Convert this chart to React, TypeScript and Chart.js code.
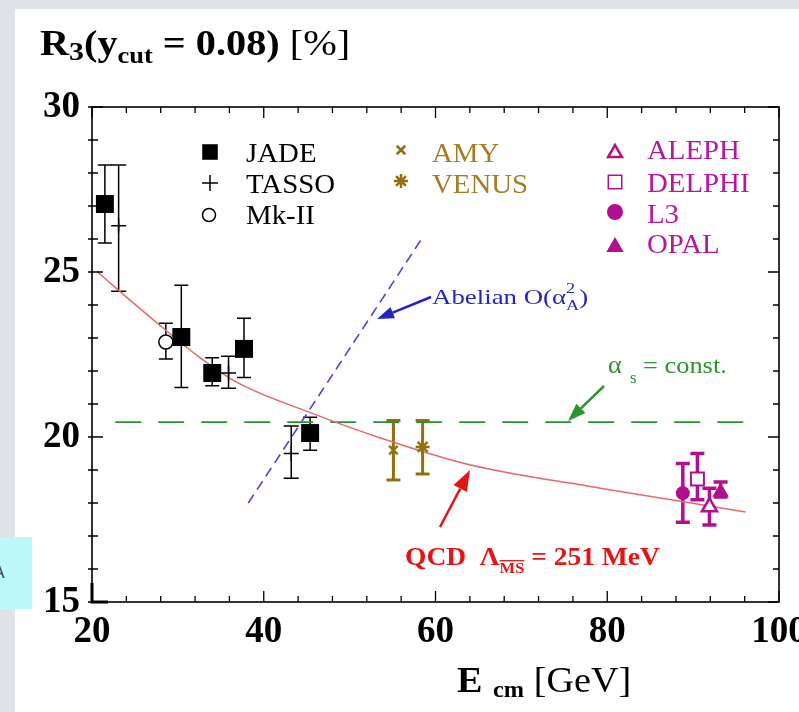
import React, { useEffect, useRef } from 'react';
import { Chart, registerables } from 'chart.js';
import { drawPoint } from 'chart.js/helpers';

Chart.register(...registerables);

const SERIF = '"Liberation Serif", "Times New Roman", Times, serif';
const font = (size: number, bold = false) => `${bold ? 'bold ' : ''}${size}px ${SERIF}`;

// ---------------- data ----------------
const jadeE = [21.5, 30.4, 34.0, 37.7, 45.4];
const jadeR = [27.06, 23.03, 21.94, 22.67, 20.12];
const jadeHi = [28.24, 24.6, 22.4, 23.6, 20.6];
const jadeLo = [25.88, 21.5, 21.55, 21.8, 19.6];

const tassoE = [23.1, 35.9, 43.2];
const tassoR = [26.4, 21.94, 19.5];
const tassoHi = [28.24, 22.45, 20.33];
const tassoLo = [24.42, 21.48, 18.75];

const mk2E = [28.6];
const mk2R = [22.88];
const mk2Hi = [23.45];
const mk2Lo = [22.36];

const amyE = [55.1];
const amyR = [19.6];
const amyHi = [20.5];
const amyLo = [18.7];

const venusE = [58.5];
const venusR = [19.7];
const venusHi = [20.5];
const venusLo = [18.88];

const alephE = [91.9];
const alephR = [17.88];
const alephHi = [18.45];
const alephLo = [17.33];

const delphiE = [90.5];
const delphiR = [18.73];
const delphiHi = [19.5];
const delphiLo = [18.1];

const l3E = [88.8];
const l3R = [18.3];
const l3Hi = [19.2];
const l3Lo = [17.42];

const opalE = [93.2];
const opalR = [18.33];
const opalHi = [18.64];
const opalLo = [18.18];

// QCD prediction, alpha_s = const, Abelian O(alpha_A^2)
const qcdE = [20.6, 22.1, 27.6, 32.6, 37.0, 45.2, 53.6, 64.1, 79.2, 96.1];
const qcdR = [25.02, 24.67, 23.45, 22.4, 21.64, 20.76, 19.97, 19.15, 18.45, 17.73];
const alphaE = [22.7, 97.6];
const alphaR = [20.45, 20.45];
const abelE = [38.2, 58.6];
const abelR = [18.0, 26.09];

// axes
const xMin = 20, xMax = 100, xStep = 20, xMinorStep = 4;
const yMin = 15, yMax = 30, yStep = 5, yMinorStep = 1;

// ---------------- colours ----------------
const BLACK = '#000000';
const BROWN = '#93700f';
const BROWN_TXT = '#a57c25';
const MAG = '#b0108f';
const MAG_TXT = '#b8179c';
const RED_LINE = '#e76868';
const RED = '#e31414';
const GREEN = '#2b942f';
const BLUE_LINE = '#4646dc';
const BLUE = '#2424c4';

const pts = (xs: number[], ys: number[]) => xs.map((x, i) => ({ x, y: ys[i] }));

function drawRich(ctx: CanvasRenderingContext2D, x: number, y: number, pieces: any[], color: string, sx = 1) {
  ctx.save();
  ctx.translate(x, y);
  ctx.scale(sx, 1);
  ctx.fillStyle = color;
  ctx.strokeStyle = color;
  ctx.textAlign = 'left';
  ctx.textBaseline = 'alphabetic';
  let cx = 0;
  for (const p of pieces) {
    ctx.font = p.font;
    const dx = p.dx || 0;
    const w = ctx.measureText(p.text).width;
    ctx.fillText(p.text, cx + dx, p.dy || 0);
    if (p.overline) {
      ctx.lineWidth = 1.3;
      ctx.beginPath();
      ctx.moveTo(cx + dx, (p.dy || 0) - p.size * 0.82);
      ctx.lineTo(cx + dx + w, (p.dy || 0) - p.size * 0.82);
      ctx.stroke();
    }
    if (!p.noAdvance) cx += w + dx;
  }
  ctx.restore();
}

function drawArrow(ctx: CanvasRenderingContext2D, x1: number, y1: number, x2: number, y2: number, color: string, lw: number, hl: number, hw: number) {
  const a = Math.atan2(y2 - y1, x2 - x1);
  const bx = x2 - Math.cos(a) * hl;
  const by = y2 - Math.sin(a) * hl;
  ctx.save();
  ctx.strokeStyle = color;
  ctx.fillStyle = color;
  ctx.lineWidth = lw;
  ctx.beginPath();
  ctx.moveTo(x1, y1);
  ctx.lineTo(bx, by);
  ctx.stroke();
  ctx.beginPath();
  ctx.moveTo(x2, y2);
  ctx.lineTo(bx + Math.sin(a) * hw / 2, by - Math.cos(a) * hw / 2);
  ctx.lineTo(bx - Math.sin(a) * hw / 2, by + Math.cos(a) * hw / 2);
  ctx.closePath();
  ctx.fill();
  ctx.restore();
}

// legend layout: [label, symbol x, symbol y, text x, text baseline, symbol radius, symbol line width, text colour]
const legendLayout: any[] = [
  ['JADE', 210, 152, 246, 162, 11, 0, BLACK],
  ['TASSO', 210, 183, 246, 193, 8, 1.5, BLACK],
  ['Mk-II', 209, 215, 246, 224, 6.5, 1.5, BLACK],
  ['AMY', 401, 150, 432, 162, 6, 2.5, BROWN_TXT],
  ['VENUS', 401, 181, 432, 193, 7, 2.5, BROWN_TXT],
  ['ALEPH', 615, 153, 647, 159, 8, 2.5, MAG_TXT],
  ['DELPHI', 615, 182, 647, 192, 9.5, 1.5, MAG_TXT],
  ['L3', 615, 212, 647, 223, 8, 0, MAG_TXT],
  ['OPAL', 615, 247, 647, 253, 10, 0, MAG_TXT],
];

const decorPlugin = {
  id: 'decor',
  beforeDatasetsDraw(chart: any) {
    const { ctx, scales } = chart;
    const xs = scales.x, ys = scales.y;
    chart.data.datasets.forEach((ds: any) => {
      if (!ds.errHi) return;
      ctx.save();
      ctx.strokeStyle = ds.barColor;
      ctx.lineWidth = ds.barWidth;
      ds.data.forEach((p: any, i: number) => {
        const px = xs.getPixelForValue(p.x);
        const top = ys.getPixelForValue(ds.errHi[i]);
        const bot = ys.getPixelForValue(ds.errLo[i]);
        const c = ds.capHalf;
        ctx.beginPath();
        ctx.moveTo(px, top);
        ctx.lineTo(px, bot);
        ctx.moveTo(px - c, top);
        ctx.lineTo(px + c, top);
        ctx.moveTo(px - c, bot);
        ctx.lineTo(px + c, bot);
        ctx.stroke();
      });
      ctx.restore();
    });
  },
  afterDraw(chart: any) {
    const { ctx, chartArea, scales } = chart;
    const { left, right, top, bottom } = chartArea;
    const xs = scales.x, ys = scales.y;
    ctx.save();
    // frame
    ctx.strokeStyle = BLACK;
    ctx.lineWidth = 1.6;
    ctx.strokeRect(left, top, right - left, bottom - top);
    // ticks
    ctx.lineWidth = 1.3;
    ctx.beginPath();
    for (let v = xMin; v <= xMax + 1e-9; v += xMinorStep) {
      const px = xs.getPixelForValue(v);
      const major = Math.abs((v - xMin) % xStep) < 1e-6;
      const len = major ? 11 : 6;
      ctx.moveTo(px, bottom);
      ctx.lineTo(px, bottom - len);
      ctx.moveTo(px, top);
      ctx.lineTo(px, top + len);
    }
    for (let v = yMin; v <= yMax + 1e-9; v += yMinorStep) {
      const py = ys.getPixelForValue(v);
      const major = Math.abs((v - yMin) % yStep) < 1e-6;
      const len = major ? 11 : 6;
      ctx.moveTo(left - 4, py);
      ctx.lineTo(left + len, py);
      ctx.moveTo(right, py);
      ctx.lineTo(right - len, py);
    }
    ctx.stroke();
    // corner
    ctx.lineWidth = 3;
    ctx.beginPath();
    ctx.moveTo(left, bottom - 19);
    ctx.lineTo(left, bottom);
    ctx.lineTo(left + 16, bottom);
    ctx.stroke();
    ctx.restore();

    // axis titles
    drawRich(ctx, 40, 55, [
      { text: 'R', font: font(35, true) },
      { text: '3', font: font(26, true), dy: 5 },
      { text: '(', font: font(35, true) },
      { text: 'y', font: font(35, true) },
      { text: 'cut', font: font(23, true), dy: 8 },
      { text: ' = 0.08)', font: font(35, true) },
      { text: ' [%]', font: font(35) },
    ], BLACK, 1.15);
    drawRich(ctx, 457, 692, [
      { text: 'E', font: font(36, true) },
      { text: 'cm', font: font(23, true), dy: 5, dx: 10 },
      { text: ' [GeV]', font: font(36) },
    ], BLACK, 1.06);

    // legend
    legendLayout.forEach(([label, sx, sy, tx, ty, r, lw, tcol]) => {
      const ds = chart.data.datasets.find((d: any) => d.label === label);
      if (!ds) return;
      ctx.save();
      ctx.fillStyle = ds.pointBackgroundColor;
      ctx.strokeStyle = ds.pointBorderColor;
      ctx.lineWidth = lw;
      drawPoint(ctx, { pointStyle: ds.pointStyle, radius: r, rotation: 0, borderWidth: lw } as any, sx, sy);
      ctx.restore();
      drawRich(ctx, tx, ty, [{ text: label, font: font(28) }], tcol, 1.03);
    });

    // annotations
    drawArrow(ctx, 431, 297, 377, 319, BLUE, 2.5, 17, 12);
    drawRich(ctx, 432, 304, [
      { text: 'Abelian O(α', font: font(22) },
      { text: '2', font: font(15), dy: -11, noAdvance: true },
      { text: 'A', font: font(15), dy: 6 },
      { text: ')', font: font(22) },
    ], BLUE, 1.22);

    drawArrow(ctx, 604, 386, 568, 421, GREEN, 2.5, 18, 13);
    drawRich(ctx, 608, 373, [{ text: 'α', font: font(25) }], GREEN, 1.05);
    drawRich(ctx, 630, 383, [{ text: 's', font: font(16) }], GREEN, 1.05);
    drawRich(ctx, 643, 373, [{ text: '= const.', font: font(24) }], GREEN, 1.1);

    drawArrow(ctx, 440, 527, 470, 470, RED, 2.5, 21, 15);
    drawRich(ctx, 405, 565, [
      { text: 'QCD  Λ', font: font(25, true) },
      { text: 'MS', font: font(15, true), size: 15, dy: 8, overline: true },
      { text: ' = 251 MeV', font: font(25, true) },
    ], RED, 1.1);
  },
};

function markerDs(label: string, xs: number[], ys: number[], hi: number[], lo: number[], style: any) {
  return {
    label,
    data: pts(xs, ys),
    errHi: hi,
    errLo: lo,
    showLine: false,
    ...style,
  };
}

export default function App() {
  const ref = useRef<HTMLCanvasElement>(null);
  useEffect(() => {
    const datasets: any[] = [
      markerDs('JADE', jadeE, jadeR, jadeHi, jadeLo, {
        pointStyle: 'rect', pointRadius: 12.7, pointBackgroundColor: BLACK, pointBorderColor: BLACK, pointBorderWidth: 0,
        barColor: BLACK, barWidth: 1.5, capHalf: 7,
      }),
      markerDs('TASSO', tassoE, tassoR, tassoHi, tassoLo, {
        pointStyle: 'cross', pointRadius: 7.5, pointBackgroundColor: BLACK, pointBorderColor: BLACK, pointBorderWidth: 1.5,
        barColor: BLACK, barWidth: 1.5, capHalf: 7.5,
      }),
      markerDs('Mk-II', mk2E, mk2R, mk2Hi, mk2Lo, {
        pointStyle: 'circle', pointRadius: 7, pointBackgroundColor: '#ffffff', pointBorderColor: BLACK, pointBorderWidth: 1.5,
        barColor: BLACK, barWidth: 1.5, capHalf: 7,
      }),
      markerDs('AMY', amyE, amyR, amyHi, amyLo, {
        pointStyle: 'crossRot', pointRadius: 6, pointBackgroundColor: BROWN, pointBorderColor: BROWN, pointBorderWidth: 2.5,
        barColor: BROWN, barWidth: 3, capHalf: 7,
      }),
      markerDs('VENUS', venusE, venusR, venusHi, venusLo, {
        pointStyle: 'star', pointRadius: 7, pointBackgroundColor: BROWN, pointBorderColor: BROWN, pointBorderWidth: 2.5,
        barColor: BROWN, barWidth: 3, capHalf: 7,
      }),
      markerDs('ALEPH', alephE, alephR, alephHi, alephLo, {
        pointStyle: 'triangle', pointRadius: 8.7, pointBackgroundColor: '#ffffff', pointBorderColor: MAG, pointBorderWidth: 2.5,
        barColor: MAG, barWidth: 3.5, capHalf: 7,
      }),
      markerDs('DELPHI', delphiE, delphiR, delphiHi, delphiLo, {
        pointStyle: 'rect', pointRadius: 9.2, pointBackgroundColor: '#ffffff', pointBorderColor: MAG, pointBorderWidth: 2,
        barColor: MAG, barWidth: 3.5, capHalf: 7,
      }),
      markerDs('L3', l3E, l3R, l3Hi, l3Lo, {
        pointStyle: 'circle', pointRadius: 7, pointBackgroundColor: MAG, pointBorderColor: MAG, pointBorderWidth: 0,
        barColor: MAG, barWidth: 3.5, capHalf: 7,
      }),
      markerDs('OPAL', opalE, opalR, opalHi, opalLo, {
        pointStyle: 'triangle', pointRadius: 9.5, pointBackgroundColor: MAG, pointBorderColor: MAG, pointBorderWidth: 0,
        barColor: MAG, barWidth: 3.5, capHalf: 7,
      }),
      {
        label: 'QCD', data: pts(qcdE, qcdR), showLine: true, pointRadius: 0, borderColor: RED_LINE, borderWidth: 1.5,
        cubicInterpolationMode: 'monotone', fill: false,
      },
      {
        label: 'alpha_s const', data: pts(alphaE, alphaR), showLine: true, pointRadius: 0, borderColor: GREEN, borderWidth: 1.6,
        borderDash: [26, 17], fill: false,
      },
      {
        label: 'Abelian', data: pts(abelE, abelR), showLine: true, pointRadius: 0, borderColor: BLUE_LINE, borderWidth: 1.6,
        borderDash: [10, 6], fill: false,
      },
    ];

    const tickFont = { family: SERIF, size: 37, weight: 'bold', lineHeight: 1.2 };
    const chart = new Chart(ref.current as HTMLCanvasElement, {
      type: 'scatter',
      data: { datasets },
      options: {
        animation: false,
        responsive: false,
        devicePixelRatio: 1,
        events: [],
        layout: { padding: { left: 8, top: 107, right: 20, bottom: 0 } },
        plugins: { legend: { display: false }, title: { display: false }, tooltip: { enabled: false } },
        scales: {
          x: {
            type: 'linear', min: xMin, max: xMax,
            ticks: { stepSize: xStep, color: BLACK, font: tickFont, padding: 8, maxRotation: 0, autoSkip: false },
            grid: { display: false, drawTicks: false },
            border: { display: false },
            afterFit: (s: any) => { s.height = 110; s.paddingLeft = 0; s.paddingRight = 0; },
          },
          y: {
            type: 'linear', min: yMin, max: yMax,
            ticks: { stepSize: yStep, color: BLACK, font: tickFont, padding: 12, autoSkip: false },
            grid: { display: false, drawTicks: false },
            border: { display: false },
            afterFit: (s: any) => { s.width = 84; s.paddingTop = 0; s.paddingBottom = 0; },
          },
        },
      } as any,
      plugins: [decorPlugin],
    } as any);
    return () => chart.destroy();
  }, []);

  return (
    <div style={{ position: 'fixed', left: 0, top: 0, width: 799, height: 712, background: '#dfe3e7', overflow: 'hidden' }}>
      <div style={{ position: 'absolute', left: 15, top: 9, right: 0, bottom: 0, background: '#ffffff' }} />
      <canvas ref={ref} width={799} height={712} style={{ position: 'absolute', left: 0, top: 0 }} />
      <div style={{ position: 'absolute', left: 0, top: 537, width: 32, height: 72, background: '#bdf8fb', overflow: 'hidden' }}>
        <span style={{ position: 'absolute', left: -7, top: 25, font: '17px "DejaVu Sans", sans-serif', color: '#444' }}>A</span>
      </div>
    </div>
  );
}
